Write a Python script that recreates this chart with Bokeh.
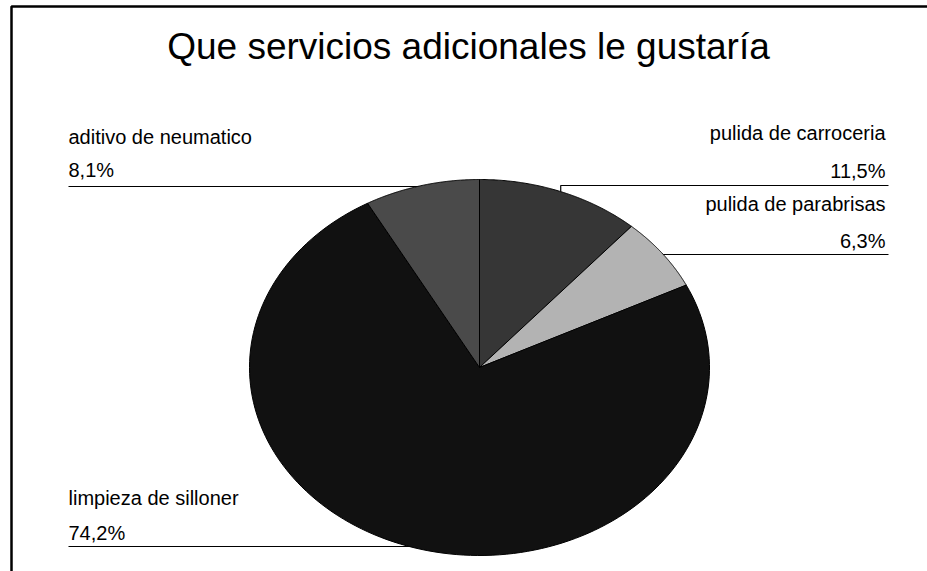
import numpy as np
from bokeh.plotting import figure
from bokeh.models import Range1d
from bokeh.core.properties import value
from bokeh.embed import file_html
from bokeh.resources import INLINE

# ---- data ----
title_text = "Que servicios adicionales le gustaría"
categories = ["pulida de carroceria", "pulida de parabrisas", "limpieza de silloner", "aditivo de neumatico"]
values = [11.5, 6.3, 74.2, 8.1]
pct_labels = ["11,5%", "6,3%", "74,2%", "8,1%"]
colors = ["#363636", "#b3b3b3", "#111111", "#4a4a4a"]

# ---- layout (styles / positions) ----
W, H = 927, 571
CX, CY, RA, RB = 479, 367, 230, 188
FONT = "Liberation Sans"
TEXT_SHIFT = 7     # compensation for baseline placement
TITLE_SHIFT = 11
# per label: side, text anchor x, name baseline, pct baseline, leader y
label_layout = [
    ("right", 885, 139, 177, 185),
    ("right", 885, 210, 247, 254),
    ("left", 68, 504, 539, 546),
    ("left", 68, 143, 176, 186),
]
LEFT_X, RIGHT_X = 68, 888

p = figure(width=W, height=H, output_backend="svg", toolbar_location=None,
           x_range=Range1d(0, W), y_range=Range1d(H, 0),
           x_axis_location=None, y_axis_location=None, min_border=0)
p.grid.visible = False
p.outline_line_color = None
p.background_fill_color = "white"
p.border_fill_color = "white"

# frame border (left & top visible)
p.line(x=[11, 11, W + 5], y=[H + 5, 6, 6], line_color="black", line_width=2.5)

vals = np.array(values, dtype=float)
frac = vals / vals.sum()
cum = np.concatenate([[0.0], np.cumsum(frac)])

# leader lines (drawn first, pie covers overlaps)
for i, (side, tx, ny, py, ly) in enumerate(label_layout):
    mid = (cum[i] + cum[i + 1]) / 2 * 2 * np.pi
    mx = CX + RA * np.sin(mid)
    my = CY - RB * np.cos(mid)
    end_x = LEFT_X if side == "left" else RIGHT_X
    p.line(x=[end_x, mx, mx], y=[ly, ly, my], line_color="black", line_width=1.2)

# pie wedges (elliptical)
xs, ys = [], []
for i in range(len(vals)):
    t = np.linspace(cum[i], cum[i + 1], 150) * 2 * np.pi
    xs.append([CX] + list(CX + RA * np.sin(t)))
    ys.append([CY] + list(CY - RB * np.cos(t)))
p.patches(xs=xs, ys=ys, fill_color=colors, line_color="black", line_width=1)

# labels
for i, (side, tx, ny, py, ly) in enumerate(label_layout):
    align = "left" if side == "left" else "right"
    p.text(x=[tx, tx], y=[ny - TEXT_SHIFT, py - TEXT_SHIFT],
           text=[categories[i], pct_labels[i]],
           text_font=value(FONT), text_font_size="20px", text_color="black",
           text_align=align, text_baseline="alphabetic")

# title
p.text(x=[468], y=[57 - TITLE_SHIFT], text=[title_text], text_font=value(FONT),
       text_font_size="37px", text_color="black", text_align="center",
       text_baseline="alphabetic")

open("out.html", "w").write(file_html(p, INLINE))
